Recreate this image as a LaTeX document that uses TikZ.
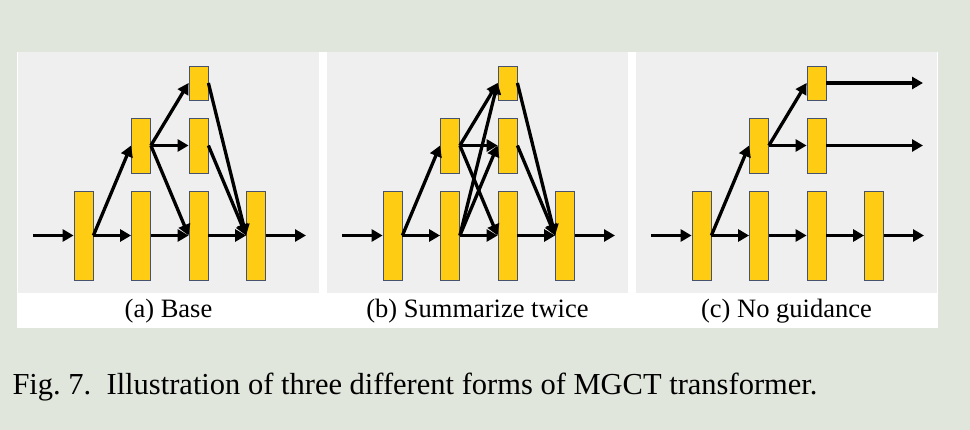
\documentclass[tikz,border=0pt]{standalone}
\usepackage{fontspec}
\setmainfont{Liberation Serif}
\usetikzlibrary{arrows.meta}
\definecolor{bggreen}{HTML}{E1E6DC}
\definecolor{panelgray}{HTML}{EFEFEF}
\definecolor{blockgold}{HTML}{FFCC14}
\definecolor{blockedge}{HTML}{46526E}

\begin{document}
\begin{tikzpicture}[x=1pt, y=-1pt,
    block/.style={draw=blockedge, line width=0.8pt, fill=blockgold, minimum width=19pt, inner sep=0pt},
    tallbox/.style={block, minimum height=89pt},
    midbox/.style={block, minimum height=55pt},
    topbox/.style={block, minimum height=34pt},
    flow/.style={line width=3.3pt, -{Triangle[length=11pt,width=12pt]}},
    subcap/.style={font=\fontsize{26.5}{30}\selectfont, anchor=base}]

    \fill[bggreen] (0,0) rectangle (970,430);
    \useasboundingbox (0,0) rectangle (970,430);
    \fill[white] (17,52) rectangle (938,328);

    % three panels: boxes, in/out ends and captions
    \foreach \p/\dx/\ptext in {a/0/Base, b/309/Summarize twice, c/618/No guidance}
    {
        \fill[panelgray] (18+\dx,52) rectangle (319+\dx,293);
        \foreach \i in {1,...,4}
        \node[tallbox] (\p\i) at ({83.5+\dx+57.5*(\i-1)},235.5) {};
        \node[midbox] (\p m1) at (141+\dx,145.5) {};
        \node[midbox] (\p m2) at (198.5+\dx,145.5) {};
        \node[topbox] (\p t) at (198.5+\dx,83) {};
        \coordinate (\p in) at (33+\dx,235.5);
        \coordinate (\p out) at (306+\dx,235.5);
        \node[subcap] (\p cap) at (168.5+\dx,318) {(\p) \ptext};

        % main row
        \draw[flow] (\p in) -- (\p1);
        \foreach \i/\j in {1/2, 2/3, 3/4}
        \draw[flow] (\p\i.east) -- (\p\j.west);
        \draw[flow] (\p4) -- (\p out);
        \draw[flow] (\p1.east) -- (\p m1.west);
        \draw[flow] (\p m1.east) -- (\p t.west);
        \draw[flow] (\p m1.east) -- (\p m2.west);
    }

    % (a) base
    \draw[flow] (am1.east) -- (a3.west);
    \draw[flow] (at.east) -- (a4.west);
    \draw[flow] (am2.east) -- (a4.west);

    % (b) summarize twice
    \draw[flow] (bm1.east) -- (b3.west);
    \draw[flow] (b2.east) -- (bt.west);
    \draw[flow] (b2.east) -- (bm2.west);
    \draw[flow] (bt.east) -- (b4.west);
    \draw[flow] (bm2.east) -- (b4.west);

    % (c) no guidance
    \coordinate (ctout) at (923,83);
    \coordinate (cmout) at (923,145.5);
    \draw[flow] (ct.east) -- (ctout);
    \draw[flow] (cm2.east) -- (cmout);

    \node[anchor=base west, font=\fontsize{30.5}{36}\selectfont] (figcap) at (9,395)
        {Fig.~7.\ \ Illustration of three different forms of MGCT transformer.};
\end{tikzpicture}
\end{document}
